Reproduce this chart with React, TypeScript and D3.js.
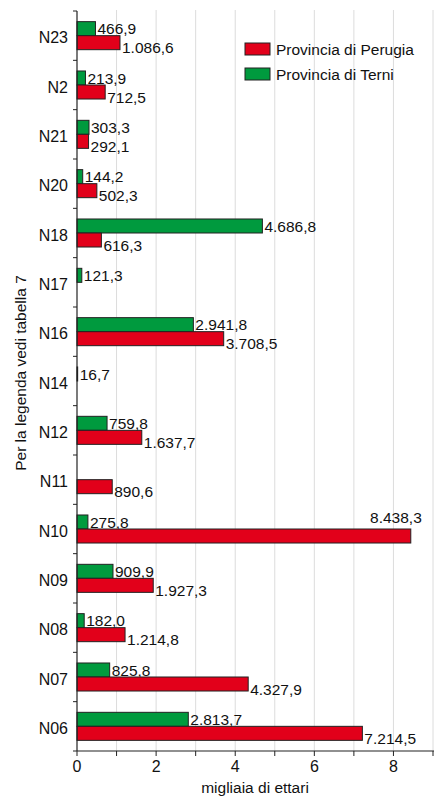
import React from 'react';
import * as d3 from 'd3';

// categories top to bottom
const categories = ['N23', 'N2', 'N21', 'N20', 'N18', 'N17', 'N16', 'N14', 'N12', 'N11', 'N10', 'N09', 'N08', 'N07', 'N06'];
// values in hectares, axis shows thousands
const perugia: (number | null)[] = [1086.6, 712.5, 292.1, 502.3, 616.3, null, 3708.5, null, 1637.7, 890.6, 8438.3, 1927.3, 1214.8, 4327.9, 7214.5];
const terni: (number | null)[] = [466.9, 213.9, 303.3, 144.2, 4686.8, 121.3, 2941.8, 16.7, 759.8, null, 275.8, 909.9, 182.0, 825.8, 2813.7];
const xTicks = [0, 1, 2, 3, 4, 5, 6, 7, 8, 9];
const xTickLabels = [0, 2, 4, 6, 8];

const series = [
  { key: 'Terni', name: 'Provincia di Terni', color: '#009a3e', values: terni },
  { key: 'Perugia', name: 'Provincia di Perugia', color: '#e2001a', values: perugia },
];

const W = 434;
const H = 796;
const margin = { top: 11, right: 1, bottom: 45, left: 77 };
const font = '"Liberation Sans", Arial, sans-serif';
const fs = 15.5;

const it = d3.formatLocale({ decimal: ',', thousands: '.', grouping: [3], currency: ['', '€'] });
const fmt = it.format(',.1f');

const App = () => {
  const x = d3.scaleLinear().domain([0, 9]).range([margin.left, W - margin.right]);
  const y = d3.scaleBand().domain(categories).range([margin.top, H - margin.bottom]);
  const inner = d3.scaleBand().domain(['Terni', 'Perugia']).range([0, y.bandwidth()]).paddingOuter(0.76);
  const axisY = H - margin.bottom;

  return (
    <div style={{ position: 'absolute', left: 0, top: 0 }}>
      <svg width={W} height={H} style={{ display: 'block', fontFamily: font }}>
        <rect width={W} height={H} fill="#fff" />
        {/* gridlines */}
        {xTicks.filter(t => t > 0).map(t => (
          <line key={'g' + t} x1={x(t)} x2={x(t)} y1={margin.top - 1} y2={axisY} stroke="#dcdcdc" strokeWidth={1} />
        ))}

        {/* bars */}
        {categories.map((c, i) => (
          <g key={c} transform={`translate(0,${y(c)})`}>
            {series.map(s => {
              const v = s.values[i];
              if (v == null) return null;
              const by = inner(s.key) as number;
              const bh = inner.bandwidth();
              const xe = x(v / 1000);
              const big = xe + 60 > W;
              return (
                <g key={s.key}>
                  <rect x={x(0)} y={by} width={xe - x(0)} height={bh} fill={s.color} stroke="#222" strokeWidth={1} />
                  {big ? (
                    <text x={xe + 11} y={by - 6} textAnchor="end" fontSize={fs} fill="#111">{fmt(v)}</text>
                  ) : (
                    <text x={xe + 2} y={by + bh / 2 + (s.key === 'Perugia' ? 5 : 0)} dy="0.36em" fontSize={fs} fill="#111">{fmt(v)}</text>
                  )}
                </g>
              );
            })}
          </g>
        ))}

        {/* y axis */}
        <line x1={x(0)} x2={x(0)} y1={margin.top} y2={axisY} stroke="#222" strokeWidth={1.2} />
        {categories.map(c => (
          <line key={'t' + c} x1={x(0) - 4} x2={x(0)} y1={y(c)} y2={y(c)} stroke="#222" />
        ))}
        <line x1={x(0) - 4} x2={x(0)} y1={axisY} y2={axisY} stroke="#222" />
        {categories.map(c => (
          <text key={'l' + c} x={68} y={(y(c) as number) + y.bandwidth() / 2 + 2} dy="0.36em" textAnchor="end" fontSize={16} fill="#111">{c}</text>
        ))}

        {/* x axis */}
        <line x1={x(0)} x2={W} y1={axisY} y2={axisY} stroke="#222" strokeWidth={1.2} />
        {xTicks.map(t => (
          <line key={'xt' + t} x1={x(t)} x2={x(t)} y1={axisY} y2={axisY + 5} stroke="#222" />
        ))}
        {xTickLabels.map(t => (
          <text key={'xl' + t} x={x(t)} y={axisY + 21} textAnchor="middle" fontSize={16} fill="#111">{t}</text>
        ))}
        <text x={(x(0) + x(9)) / 2} y={axisY + 42} textAnchor="middle" fontSize={fs} fill="#111">migliaia di ettari</text>
        <text transform={`translate(26,${(margin.top + axisY) / 2 - 8}) rotate(-90)`} textAnchor="middle" fontSize={fs} fill="#111">Per la legenda vedi tabella 7</text>

        {/* legend */}
        {[series[1], series[0]].map((s, i) => (
          <g key={'lg' + s.key} transform={`translate(245,${43 + i * 25})`}>
            <rect x={0} y={0} width={25} height={12} fill={s.color} stroke="#222" strokeWidth={1} />
            <text x={31} y={6.5} dy="0.36em" fontSize={fs} fill="#111">{s.name}</text>
          </g>
        ))}
      </svg>
    </div>
  );
};

export default App;
